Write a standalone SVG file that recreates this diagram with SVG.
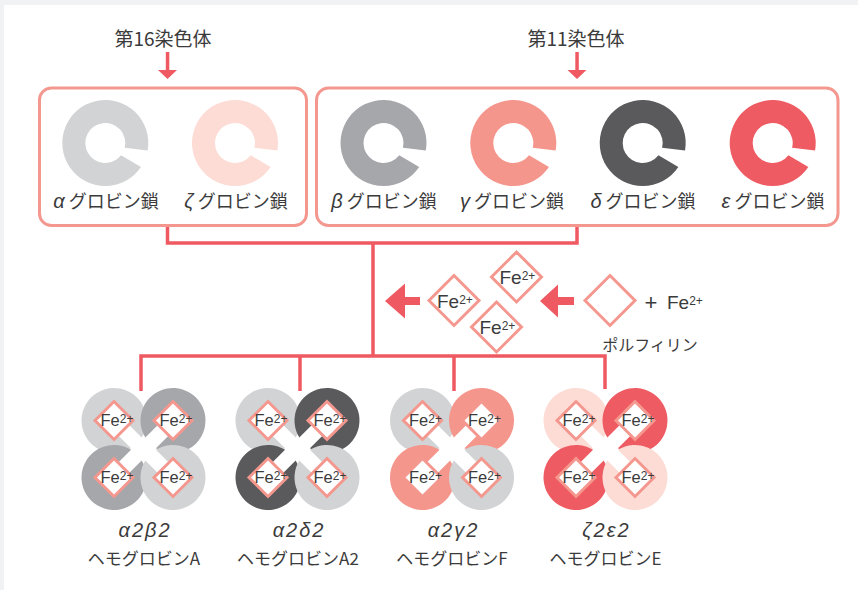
<svg xmlns="http://www.w3.org/2000/svg" width="858" height="590" viewBox="0 0 858 590">
<style>
  .jp{font-family:"Noto Sans CJK JP","Noto Sans",sans-serif;fill:#3b3b3b}
  .gk{font-family:"Liberation Sans","DejaVu Sans",sans-serif;font-style:italic}
  .fe{font-family:"Liberation Sans",Arial,sans-serif;fill:#3b3b3b}
  .sub{font-family:"Liberation Sans","DejaVu Sans",sans-serif;font-style:italic;font-size:20px;letter-spacing:2px;fill:#3b3b3b}
  .box{fill:none;stroke:#f4988f;stroke-width:3}
  .wire{fill:none;stroke:#ef5a62;stroke-width:3.5}
  .arrow{fill:#ef5a62}
  .dia{fill:#fff;stroke:#f4988f;stroke-width:3}
  .a{fill:#d1d3d4}.z{fill:#fcdcd5}.b{fill:#a6a7ab}.g{fill:#f5968c}.d{fill:#5a5a5d}.e{fill:#ef5b63}
</style>
<defs>
  <!-- globin chain: ring with a notch on the lower right -->
  <path id="ring" d="M42.35 7.47A43 43 0 1 0 35.65 24.05L15.76 12.31A20 20 0 1 1 19.41 4.84Z"/>
  <!-- subunit inside a tetramer: ring with a straight slot pointing along +x -->
  <path id="sub" d="M31.62 7.5A32.5 32.5 0 1 1 31.62 -7.5L10.36 -7.5A12.8 12.8 0 1 0 10.36 7.5Z"/>
  <path id="dl" d="M0-25L25 0L0 25L-25 0Z"/>
  <path id="ds" d="M0-19L19 0L0 19L-19 0Z"/>
</defs>

<!-- page edge band -->
<rect x="0" y="0" width="858" height="5" fill="#f1f2f4"/>
<rect x="0" y="0" width="4" height="590" fill="#f1f2f4"/>

<!-- chromosome labels -->
<g id="chr16">
  <text class="jp" x="163" y="46" font-size="19" text-anchor="middle">第16染色体</text>
  <rect class="arrow" x="165.8" y="52" width="3.5" height="19"/>
  <path class="arrow" d="M158 70H177L167.5 79Z"/>
</g>
<g id="chr11">
  <text class="jp" x="576" y="46" font-size="19" text-anchor="middle">第11染色体</text>
  <rect class="arrow" x="575.3" y="52" width="3.5" height="19"/>
  <path class="arrow" d="M567.5 70H586.5L577 79Z"/>
</g>

<!-- connectors -->
<g id="connectors">
  <path class="wire" d="M167.5 227V243H577V227"/>
  <path class="wire" d="M373 243V356"/>
  <path class="wire" d="M141 391V356H605V389"/>
  <path class="wire" d="M300 391V356"/>
  <path class="wire" d="M454 391V356"/>
  <path class="arrow" d="M385 301L405 283.5V297H420V305H405V318.5Z"/>
  <path class="arrow" d="M540 301L558 284.5V297H574V305H558V317.5Z"/>
</g>

<!-- chromosome 16 group -->
<g id="box16">
  <rect class="box" x="39.5" y="88" width="267" height="137.5" rx="12"/>
  <g id="alpha">
    <use href="#ring" class="a" transform="translate(105.3 143)"/>
    <text class="jp" x="106" y="208" font-size="18" text-anchor="middle"><tspan class="gk" font-size="20">α</tspan> グロビン鎖</text>
  </g>
  <g id="zeta">
    <use href="#ring" class="z" transform="translate(235 143)"/>
    <text class="jp" x="236" y="208" font-size="18" text-anchor="middle"><tspan class="gk" font-size="20">ζ</tspan> グロビン鎖</text>
  </g>
</g>

<!-- chromosome 11 group -->
<g id="box11">
  <rect class="box" x="316.5" y="88" width="521.5" height="137.5" rx="12"/>
  <g id="beta">
    <use href="#ring" class="b" transform="translate(383.5 143)"/>
    <text class="jp" x="384" y="208" font-size="18" text-anchor="middle"><tspan class="gk" font-size="20">β</tspan> グロビン鎖</text>
  </g>
  <g id="gamma">
    <use href="#ring" class="g" transform="translate(513.3 143)"/>
    <text class="jp" x="512" y="208" font-size="18" text-anchor="middle"><tspan class="gk" font-size="20">γ</tspan> グロビン鎖</text>
  </g>
  <g id="delta">
    <use href="#ring" class="d" transform="translate(642.7 143)"/>
    <text class="jp" x="643" y="208" font-size="18" text-anchor="middle"><tspan class="gk" font-size="20">δ</tspan> グロビン鎖</text>
  </g>
  <g id="epsilon">
    <use href="#ring" class="e" transform="translate(772.7 143)"/>
    <text class="jp" x="773" y="208" font-size="18" text-anchor="middle"><tspan class="gk" font-size="20">ε</tspan> グロビン鎖</text>
  </g>
</g>

<!-- heme: iron entering porphyrin -->
<g id="heme">
  <use href="#dl" class="dia" x="454" y="300.5"/>
  <text class="fe" x="437" y="307.5" font-size="19">Fe<tspan font-size="12" dy="-4">2+</tspan></text>
  <use href="#dl" class="dia" x="516.5" y="277"/>
  <text class="fe" x="499.5" y="284" font-size="19">Fe<tspan font-size="12" dy="-4">2+</tspan></text>
  <use href="#dl" class="dia" x="496.5" y="327"/>
  <text class="fe" x="479.5" y="334" font-size="19">Fe<tspan font-size="12" dy="-4">2+</tspan></text>
</g>
<g id="porphyrin">
  <use href="#dl" class="dia" x="610" y="300.5"/>
  <text class="fe" x="651" y="310" font-size="22" text-anchor="middle">+</text>
  <text class="fe" x="667" y="309" font-size="19">Fe<tspan font-size="12" dy="-4">2+</tspan></text>
  <text class="jp" x="650" y="351" font-size="16" text-anchor="middle">ポルフィリン</text>
</g>

<!-- hemoglobin A -->
<g id="hbA" transform="translate(143.5 449)">
  <use href="#sub" class="a" transform="translate(-29.5 -28.5) rotate(45)"/>
  <use href="#sub" class="b" transform="translate(29.5 -28.5) rotate(135)"/>
  <use href="#sub" class="b" transform="translate(-29.5 28.5) rotate(-45)"/>
  <use href="#sub" class="a" transform="translate(29.5 28.5) rotate(225)"/>
  <use href="#ds" class="dia" x="-29.5" y="-28.5"/><use href="#ds" class="dia" x="29.5" y="-28.5"/>
  <use href="#ds" class="dia" x="-29.5" y="28.5"/><use href="#ds" class="dia" x="29.5" y="28.5"/>
  <text class="fe" x="-43" y="-23" font-size="16.5">Fe<tspan font-size="12" dy="-3">2+</tspan></text>
  <text class="fe" x="16" y="-23" font-size="16.5">Fe<tspan font-size="12" dy="-3">2+</tspan></text>
  <text class="fe" x="-43" y="34" font-size="16.5">Fe<tspan font-size="12" dy="-3">2+</tspan></text>
  <text class="fe" x="16" y="34" font-size="16.5">Fe<tspan font-size="12" dy="-3">2+</tspan></text>
  <text class="sub" x="1.5" y="88" text-anchor="middle">α2β2</text>
  <text class="jp" x="0.5" y="116" font-size="17" text-anchor="middle">ヘモグロビンA</text>
</g>

<!-- hemoglobin A2 -->
<g id="hbA2" transform="translate(297.5 449)">
  <use href="#sub" class="a" transform="translate(-29.5 -28.5) rotate(45)"/>
  <use href="#sub" class="d" transform="translate(29.5 -28.5) rotate(135)"/>
  <use href="#sub" class="d" transform="translate(-29.5 28.5) rotate(-45)"/>
  <use href="#sub" class="a" transform="translate(29.5 28.5) rotate(225)"/>
  <use href="#ds" class="dia" x="-29.5" y="-28.5"/><use href="#ds" class="dia" x="29.5" y="-28.5"/>
  <use href="#ds" class="dia" x="-29.5" y="28.5"/><use href="#ds" class="dia" x="29.5" y="28.5"/>
  <text class="fe" x="-43" y="-23" font-size="16.5">Fe<tspan font-size="12" dy="-3">2+</tspan></text>
  <text class="fe" x="16" y="-23" font-size="16.5">Fe<tspan font-size="12" dy="-3">2+</tspan></text>
  <text class="fe" x="-43" y="34" font-size="16.5">Fe<tspan font-size="12" dy="-3">2+</tspan></text>
  <text class="fe" x="16" y="34" font-size="16.5">Fe<tspan font-size="12" dy="-3">2+</tspan></text>
  <text class="sub" x="1.5" y="88" text-anchor="middle">α2δ2</text>
  <text class="jp" x="0.5" y="116" font-size="17" text-anchor="middle">ヘモグロビンA2</text>
</g>

<!-- hemoglobin F -->
<g id="hbF" transform="translate(452 449)">
  <use href="#sub" class="a" transform="translate(-29.5 -28.5) rotate(45)"/>
  <use href="#sub" class="g" transform="translate(29.5 -28.5) rotate(135)"/>
  <use href="#sub" class="g" transform="translate(-29.5 28.5) rotate(-45)"/>
  <use href="#sub" class="a" transform="translate(29.5 28.5) rotate(225)"/>
  <use href="#ds" class="dia" x="-29.5" y="-28.5"/><use href="#ds" class="dia" x="29.5" y="-28.5"/>
  <use href="#ds" class="dia" x="-29.5" y="28.5"/><use href="#ds" class="dia" x="29.5" y="28.5"/>
  <text class="fe" x="-43" y="-23" font-size="16.5">Fe<tspan font-size="12" dy="-3">2+</tspan></text>
  <text class="fe" x="16" y="-23" font-size="16.5">Fe<tspan font-size="12" dy="-3">2+</tspan></text>
  <text class="fe" x="-43" y="34" font-size="16.5">Fe<tspan font-size="12" dy="-3">2+</tspan></text>
  <text class="fe" x="16" y="34" font-size="16.5">Fe<tspan font-size="12" dy="-3">2+</tspan></text>
  <text class="sub" x="1.5" y="88" text-anchor="middle">α2γ2</text>
  <text class="jp" x="0" y="116" font-size="17" text-anchor="middle">ヘモグロビンF</text>
</g>

<!-- hemoglobin E -->
<g id="hbE" transform="translate(605.5 449)">
  <use href="#sub" class="z" transform="translate(-29.5 -28.5) rotate(45)"/>
  <use href="#sub" class="e" transform="translate(29.5 -28.5) rotate(135)"/>
  <use href="#sub" class="e" transform="translate(-29.5 28.5) rotate(-45)"/>
  <use href="#sub" class="z" transform="translate(29.5 28.5) rotate(225)"/>
  <use href="#ds" class="dia" x="-29.5" y="-28.5"/><use href="#ds" class="dia" x="29.5" y="-28.5"/>
  <use href="#ds" class="dia" x="-29.5" y="28.5"/><use href="#ds" class="dia" x="29.5" y="28.5"/>
  <text class="fe" x="-43" y="-23" font-size="16.5">Fe<tspan font-size="12" dy="-3">2+</tspan></text>
  <text class="fe" x="16" y="-23" font-size="16.5">Fe<tspan font-size="12" dy="-3">2+</tspan></text>
  <text class="fe" x="-43" y="34" font-size="16.5">Fe<tspan font-size="12" dy="-3">2+</tspan></text>
  <text class="fe" x="16" y="34" font-size="16.5">Fe<tspan font-size="12" dy="-3">2+</tspan></text>
  <text class="sub" x="1" y="88" text-anchor="middle">ζ2ε2</text>
  <text class="jp" x="0" y="116" font-size="17" text-anchor="middle">ヘモグロビンE</text>
</g>
</svg>
